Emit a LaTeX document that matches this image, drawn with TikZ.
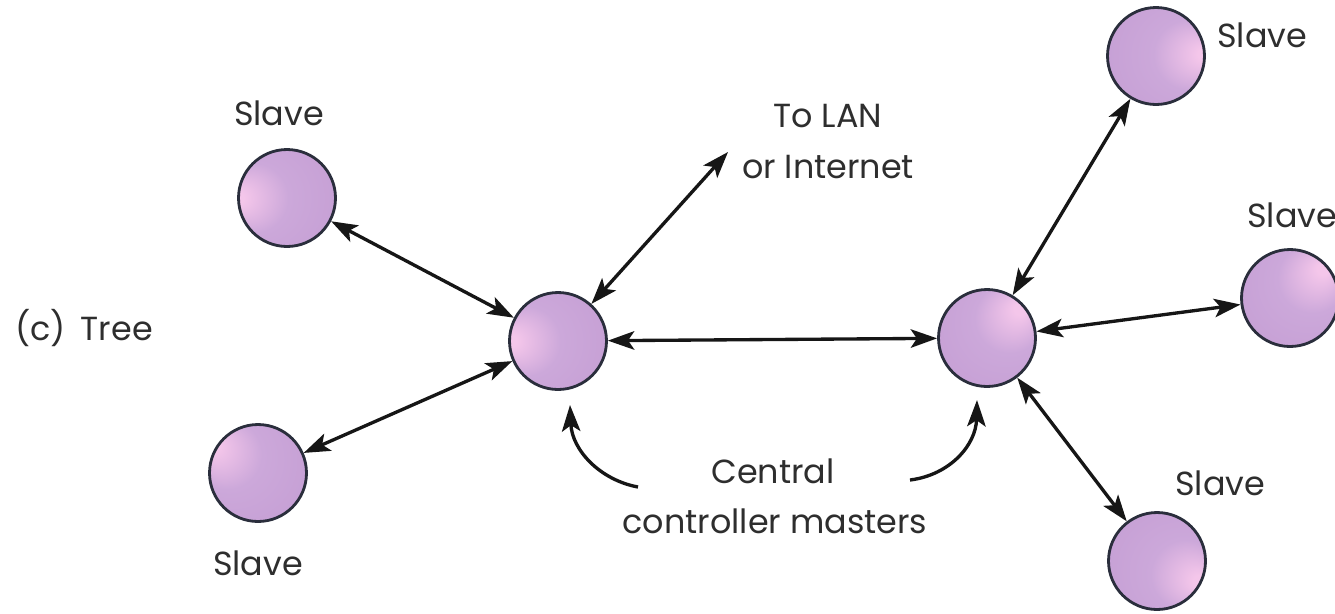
\documentclass[tikz,border=0pt]{standalone}
\usepackage{fontspec}
\setmainfont{Poppins}
\usetikzlibrary{arrows.meta}
\definecolor{hl}{HTML}{F4C6EA}
\definecolor{base}{HTML}{CCA8DA}
\definecolor{baseb}{HTML}{C49DD3}
\definecolor{rim}{HTML}{C98ECE}
\definecolor{outl}{HTML}{2A2E3C}
\definecolor{txt}{HTML}{2E2E2E}
\definecolor{ln}{HTML}{161616}
\newcommand\mksph[3]{\pgfdeclareradialshading{#1}{\pgfpoint{#2bp}{#3bp}}{color(0bp)=(hl); color(3bp)=(hl); color(18bp)=(base); color(42bp)=(baseb); color(50bp)=(rim)}}
\mksph{sphTL}{-27}{0}
\mksph{sphBL}{-25}{15}
\mksph{sphMa}{-26}{0}
\mksph{sphMb}{18}{16}
\mksph{sphTR}{26}{1}
\mksph{sphR}{18}{16}
\mksph{sphBR}{23}{-11}
\begin{document}
\begin{tikzpicture}[x=0.02cm,y=-0.02cm,
  sph/.style={circle, draw=outl, line width=1.6pt, minimum size=1.94cm, inner sep=0pt, shade, shading=#1},
  lbl/.style={text=txt, font=\fontsize{19}{23}\selectfont, inner sep=0pt},
  tip/.style={},
  link/.style={draw=ln, line width=1.9pt, {Stealth[length=15pt,width=10.5pt,inset=3.5pt]}-{Stealth[length=15pt,width=10.5pt,inset=3.5pt]}},
  point/.style={draw=ln, line width=1.9pt, -{Stealth[length=15pt,width=10.5pt,inset=3.5pt]}}]
\useasboundingbox (0,0) rectangle (1335,613);
% spheres
\node[sph=sphTL] (tl) at (287,198) {};
\node[sph=sphBL] (bl) at (258,473) {};
\node[sph=sphMa] (m1) at (558,341) {};
\node[sph=sphMb] (m2) at (987,338) {};
\node[sph=sphTR] (tr) at (1156,56) {};
\node[sph=sphR] (r) at (1290,298) {};
\node[sph=sphBR] (br) at (1157,561) {};
% labels
\node[lbl, anchor=base west] (tree) at (15,340) {(c)\hspace{0.45em}Tree};
\node[lbl, anchor=base] (ltl) at (279,125) {Slave};
\node[lbl, anchor=base] (lbl) at (258,575) {Slave};
\node[lbl, anchor=base west] (ltr) at (1217,47) {Slave};
\node[lbl, anchor=base west] (lr) at (1247,227) {Slave};
\node[lbl, anchor=base west] (lbr) at (1175,495) {Slave};
\node[lbl, anchor=base] (lan1) at (828,127) {To LAN};
\node[lbl, anchor=base] (lan2) at (828,178) {or Internet};
\node[lbl, anchor=base] (cc1) at (773,483) {Central};
\node[lbl, anchor=base] (cc2) at (775,533) {controller masters};
% connectors
\coordinate (lan) at (728,152);
\draw[link] (tl) -- (m1);
\draw[link] (bl) -- (m1);
\draw[link] (m1) -- (lan);
\draw[link] (m1) -- (m2);
\draw[link] (m2) -- (tr);
\draw[link] (m2) -- (r);
\draw[link] (m2) -- (br);
\coordinate (ca) at (638,487);
\coordinate (ta) at (570,405);
\coordinate (cb) at (910,480);
\coordinate (tb) at (977,400);
\draw[point] (ca) .. controls (600,480) and (572,450) .. (ta);
\draw[point] (cb) .. controls (950,475) and (976,445) .. (tb);
\end{tikzpicture}
\end{document}
